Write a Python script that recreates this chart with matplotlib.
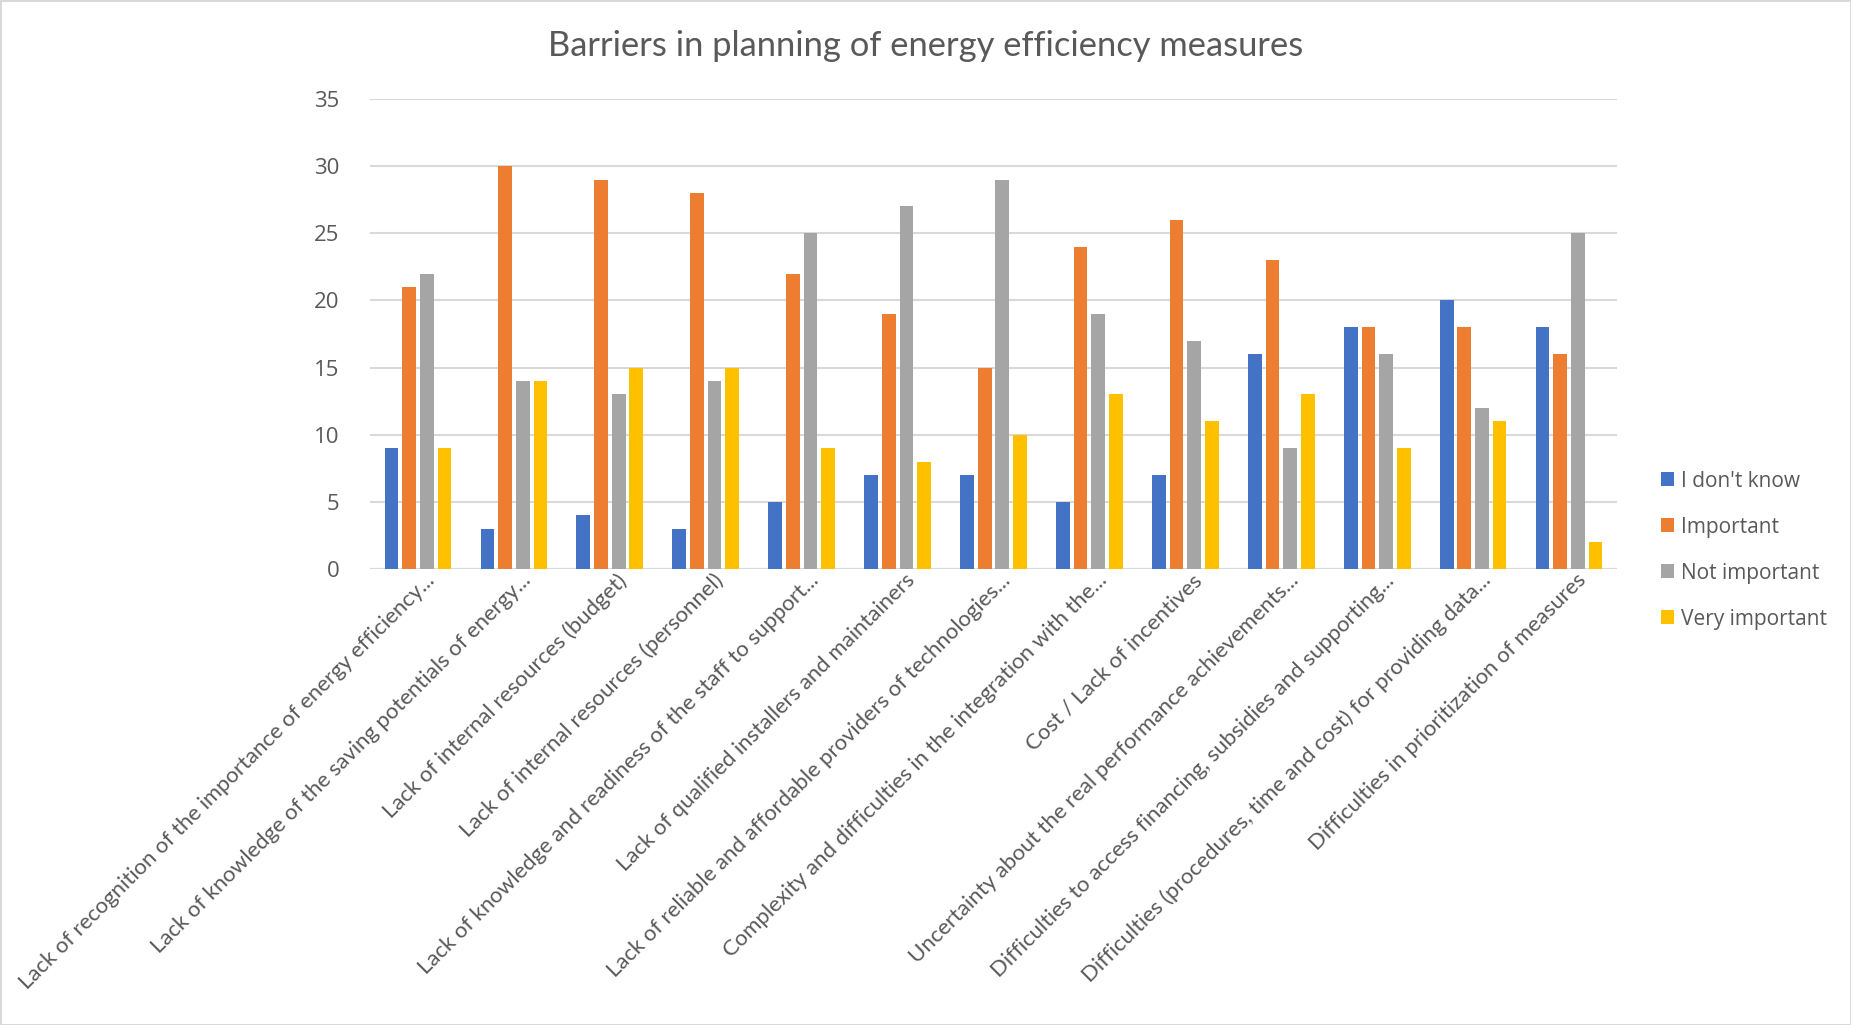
import matplotlib.pyplot as plt
import numpy as np
from matplotlib.transforms import ScaledTranslation

categories = [
    "Lack of recognition of the importance of energy efficiency...",
    "Lack of knowledge of the saving potentials of energy...",
    "Lack of internal resources (budget)",
    "Lack of internal resources (personnel)",
    "Lack of knowledge and readiness of the staff to support...",
    "Lack of qualified installers and maintainers",
    "Lack of reliable and affordable providers of technologies...",
    "Complexity and difficulties in the integration with the...",
    "Cost / Lack of incentives",
    "Uncertainty about the real performance achievements...",
    "Difficulties to access financing, subsidies and supporting...",
    "Difficulties (procedures, time and cost) for providing data...",
    "Difficulties in prioritization of measures",
]
dont_know = [9, 3, 4, 3, 5, 7, 7, 5, 7, 16, 18, 20, 18]
important = [21, 30, 29, 28, 22, 19, 15, 24, 26, 23, 18, 18, 16]
not_important = [22, 14, 13, 14, 25, 27, 29, 19, 17, 9, 16, 12, 25]
very_important = [9, 14, 15, 15, 9, 8, 10, 13, 11, 13, 9, 11, 2]

series = [
    ("I don't know", dont_know, "#4472C4"),
    ("Important", important, "#ED7D31"),
    ("Not important", not_important, "#A5A5A5"),
    ("Very important", very_important, "#FFC000"),
]

text_color = "#595959"
plt.rcParams['font.family'] = ['Open Sans', 'DejaVu Sans']

fig = plt.figure(figsize=(18.51, 10.25), dpi=100)
fig.patch.set_edgecolor("#d9d9d9")
fig.patch.set_linewidth(2)
ax = fig.add_axes([0.1999, 0.4449, 0.6737, 0.4585])

x = np.arange(len(categories))
step = 0.184
width = 0.143
for i, (name, vals, col) in enumerate(series):
    ax.bar(x + (i - 1.5) * step, vals, width, color=col, label=name, zorder=3)

ax.set_xlim(-0.5, len(categories) - 0.5)
ax.set_ylim(0, 35)
ax.set_yticks(range(0, 36, 5))
ax.yaxis.grid(True, color="#d9d9d9", linewidth=1.5, zorder=0)
for s in ax.spines.values():
    s.set_visible(False)
ax.tick_params(axis='y', length=0, pad=22, labelsize=16, labelcolor=text_color)
ax.tick_params(axis='x', length=0, pad=6)
ax.axhline(0, color="#d9d9d9", linewidth=1.5, zorder=2)

ax.set_xticks(x)
ax.set_xticklabels(categories, rotation=45, ha='right', va='center',
                   rotation_mode='anchor', fontsize=15.9, color=text_color,
                   family=['Lato', 'DejaVu Sans'])
offset = ScaledTranslation(0.14, 0, fig.dpi_scale_trans)
for lab in ax.get_xticklabels():
    lab.set_transform(lab.get_transform() + offset)

fig.text(0.5, 0.955, "Barriers in planning of energy efficiency measures",
         ha='center', va='center', fontsize=24.8, color=text_color,
         family=['Lato', 'DejaVu Sans'])

leg = ax.legend(loc='center left', bbox_to_anchor=(1.02, 0.04), frameon=False,
                fontsize=15, labelcolor=text_color, handlelength=0.65,
                handleheight=0.65, handletextpad=0.3, labelspacing=1.2)

fig.savefig("out.png", dpi=100)
